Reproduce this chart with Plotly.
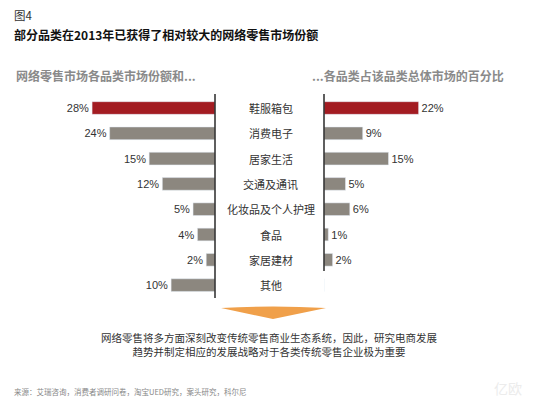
import plotly.graph_objects as go

categories = ["鞋服箱包", "消费电子", "居家生活", "交通及通讯", "化妆品及个人护理", "食品", "家居建材", "其他"]
online_share = [28, 24, 15, 12, 5, 4, 2, 10]
category_pct = [22, 9, 15, 5, 6, 1, 2, None]
highlight = "鞋服箱包"

RED = "#A31C22"
GRAY = "#8C877F"
FONT = "Noto Sans CJK SC"
NUMFONT = "Liberation Sans"
W, H = 539, 398

def px(x):
    return x / W

def py(y):
    return 1 - y / H

colors = [RED if c == highlight else GRAY for c in categories]

left_text = [f"{v}%" for v in online_share]
right_vals = [v if v is not None else 0 for v in category_pct]
right_text = [f"{v}%" if v is not None else "" for v in category_pct]

fig = go.Figure()
fig.add_trace(go.Bar(
    y=categories, x=online_share, orientation="h", marker_color=colors,
    width=0.5, text=left_text, textposition="outside", cliponaxis=False,
    constraintext="none",
    textfont=dict(size=11, color="#333", family=NUMFONT),
    xaxis="x", yaxis="y", showlegend=False, hoverinfo="skip"))
fig.add_trace(go.Bar(
    y=categories, x=right_vals, orientation="h", marker_color=colors,
    width=0.5, text=right_text, textposition="outside", cliponaxis=False,
    constraintext="none",
    textfont=dict(size=11, color="#333", family=NUMFONT),
    xaxis="x2", yaxis="y", showlegend=False, hoverinfo="skip"))

row0, step = 108, 25.3
yr = [(H - row0) / step, -row0 / step]

def yv(p):
    return (p - row0) / step

ax_common = dict(showgrid=False, zeroline=False, showticklabels=False, showline=False, fixedrange=True)
fig.update_layout(
    width=W, height=H, margin=dict(l=0, r=0, t=0, b=0),
    paper_bgcolor="white", plot_bgcolor="rgba(0,0,0,0)",
    font=dict(family=FONT, color="#333"),
    xaxis=dict(domain=[0, px(215)], range=[215 / 4.39, 0], **ax_common),
    xaxis2=dict(domain=[px(324), 1], range=[0, 215 / 4.3], **ax_common),
    yaxis=dict(domain=[0, 1], range=yr, type="category", categoryorder="array",
               categoryarray=categories, **ax_common),
    bargap=0.5,
)

# category labels in the middle
for c in categories:
    fig.add_annotation(x=px(270.5), xref="paper", y=c, yref="y", text=c, showarrow=False,
                       font=dict(size=11, color="#333", family=FONT), xanchor="center", yanchor="middle")

# axis lines
fig.add_shape(type="line", xref="paper", yref="y", x0=px(215), x1=px(215), y0=yv(94), y1=yv(298),
              line=dict(color="#2a2a2a", width=1.5))
fig.add_shape(type="line", xref="paper", yref="y", x0=px(324), x1=px(324), y0=yv(94), y1=yv(271),
              line=dict(color="#2a2a2a", width=1.5))

# orange arrow
path = (f"M {px(221)},{py(308)} Q {px(273)},{py(305)} {px(326)},{py(308)} "
        f"L {px(273)},{py(319)} Z")
fig.add_shape(type="path", xref="paper", yref="paper", path=path,
              fillcolor="#F0A04A", line=dict(width=0))

# titles
fig.add_annotation(x=px(12), y=py(15), xref="paper", yref="paper", text="图4", showarrow=False,
                   xanchor="left", yanchor="middle", font=dict(size=11.5, color="#333", family=FONT))
fig.add_annotation(x=px(12), y=py(34), xref="paper", yref="paper",
                   text="<b>部分品类在2013年已获得了相对较大的网络零售市场份额</b>", showarrow=False,
                   xanchor="left", yanchor="middle", font=dict(size=12, color="#111", family=FONT))
fig.add_annotation(x=px(14), y=py(76), xref="paper", yref="paper",
                   text="<b>网络零售市场各品类市场份额和...</b>", showarrow=False,
                   xanchor="left", yanchor="middle", font=dict(size=12, color="#8a8a8a", family=FONT))
fig.add_annotation(x=px(506), y=py(76), xref="paper", yref="paper",
                   text="<b>...各品类占该品类总体市场的百分比</b>", showarrow=False,
                   xanchor="right", yanchor="middle", font=dict(size=12, color="#8a8a8a", family=FONT))

# conclusion text
fig.add_annotation(x=px(268.5), y=py(344), xref="paper", yref="paper",
                   text="网络零售将多方面深刻改变传统零售商业生态系统，因此，研究电商发展<br>"
                        "趋势并制定相应的发展战略对于各类传统零售企业极为重要",
                   showarrow=False, xanchor="center", yanchor="middle", align="center",
                   font=dict(size=10.5, color="#333", family=FONT))

# source
fig.add_annotation(x=px(12), y=py(391), xref="paper", yref="paper",
                   text="来源：艾瑞咨询，消费者调研问卷，淘宝UED研究，案头研究，科尔尼",
                   showarrow=False, xanchor="left", yanchor="middle",
                   font=dict(size=7.5, color="#888", family=FONT))

# watermark
fig.add_annotation(x=px(508), y=py(388), xref="paper", yref="paper", text="亿欧",
                   showarrow=False, xanchor="center", yanchor="middle",
                   font=dict(size=14, color="#ececec", family=FONT))

fig.write_html("out.html")
